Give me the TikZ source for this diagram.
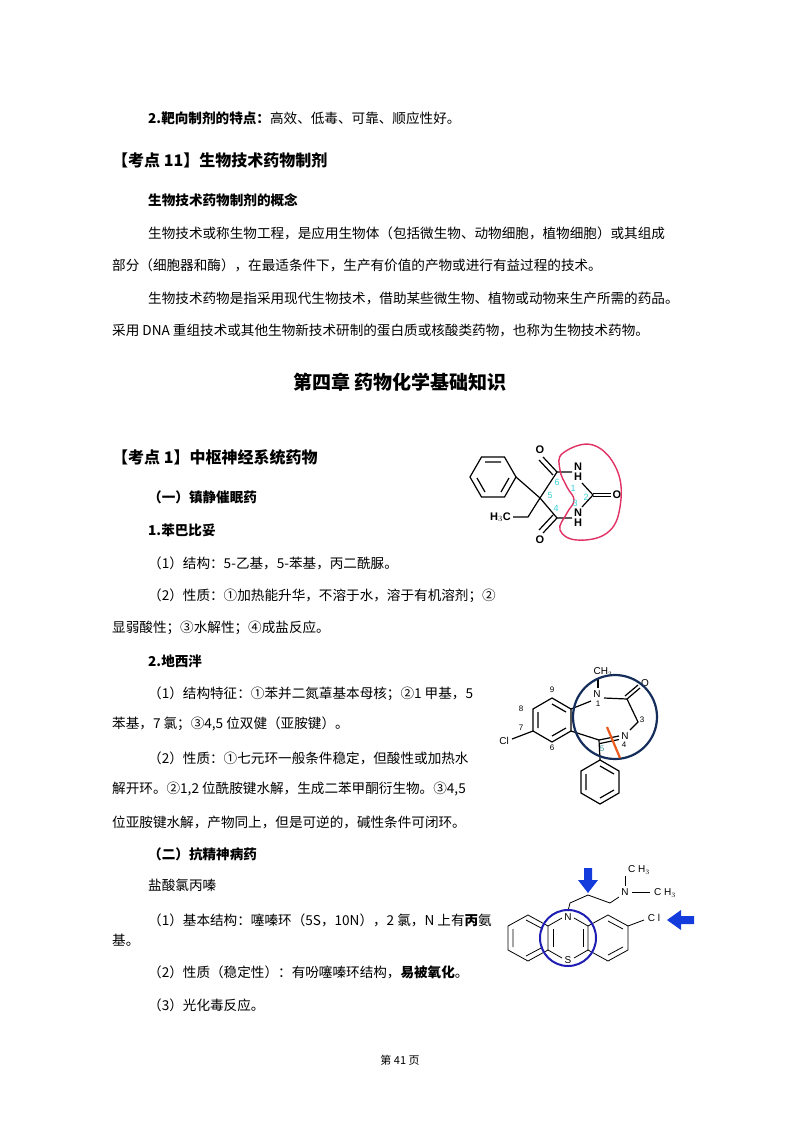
\documentclass[tikz,border=0pt]{standalone}
\usepackage{fontspec}
\setmainfont{Noto Sans CJK SC}
\newfontfamily\latinf{Liberation Sans}
\definecolor{pinkc}{RGB}{225,50,100}
\definecolor{cyanc}{RGB}{60,210,220}
\definecolor{tealc}{RGB}{60,150,150}
\definecolor{navyc}{RGB}{20,45,90}
\definecolor{orangec}{RGB}{235,90,30}
\definecolor{bluec}{RGB}{30,30,180}
\definecolor{arrowc}{RGB}{20,60,220}
\begin{document}
\begin{tikzpicture}[x=1pt,y=-1pt,
  txt/.style={anchor=west,inner sep=0pt,font=\fontsize{13.6}{15}\selectfont},
  bt/.style={txt,font=\fontsize{13.6}{15}\selectfont\bfseries},
  hd/.style={anchor=west,inner sep=0pt,font=\fontsize{16}{18}\selectfont\bfseries},
  bond/.style={line width=1.2pt},
  atm/.style={inner sep=0pt,font=\latinf\bfseries\fontsize{11}{12}\selectfont},
  num/.style={inner sep=0pt,font=\latinf\fontsize{8}{9}\selectfont}]
\useasboundingbox (0,0) rectangle (800,1132);
\fill[white] (0,0) rectangle (800,1132);
% text
\node[txt] (t1) at (148,118) {\textbf{2.靶向制剂的特点：}高效、低毒、可靠、顺应性好。};
\node[hd] (t2) at (112,160) {【考点 11】生物技术药物制剂};
\node[bt] (t3) at (148,200) {生物技术药物制剂的概念};
\node[txt] (t4) at (148,233) {生物技术或称生物工程，是应用生物体（包括微生物、动物细胞，植物细胞）或其组成};
\node[txt] (t5) at (112,265) {部分（细胞器和酶），在最适条件下，生产有价值的产物或进行有益过程的技术。};
\node[txt] (t6) at (148,298) {生物技术药物是指采用现代生物技术，借助某些微生物、植物或动物来生产所需的药品。};
\node[txt] (t7) at (112,330) {采用 DNA 重组技术或其他生物新技术研制的蛋白质或核酸类药物，也称为生物技术药物。};
\node[inner sep=0pt,font=\fontsize{19}{21}\selectfont\bfseries] (t8) at (400,382) {第四章\ 药物化学基础知识};
\node[hd] (t9) at (112,457) {【考点 1】中枢神经系统药物};
\node[bt] (t10) at (148,497) {（一）镇静催眠药};
\node[bt] (t11) at (148,530) {1.苯巴比妥};
\node[txt] (t12) at (148,563) {（1）结构：5-乙基，5-苯基，丙二酰脲。};
\node[txt] (t13) at (148,596) {（2）性质：①加热能升华，不溶于水，溶于有机溶剂；②};
\node[txt] (t14) at (112,628) {显弱酸性；③水解性；④成盐反应。};
\node[bt] (t15) at (148,661) {2.地西泮};
\node[txt] (t16) at (148,694) {（1）结构特征：①苯并二氮䓬基本母核；②1 甲基，5};
\node[txt] (t17) at (112,724) {苯基，7 氯；③4,5 位双健（亚胺键）。};
\node[txt] (t18) at (148,758) {（2）性质：①七元环一般条件稳定，但酸性或加热水};
\node[txt] (t19) at (112,789) {解开环。②1,2 位酰胺键水解，生成二苯甲酮衍生物。③4,5};
\node[txt] (t20) at (112,822) {位亚胺键水解，产物同上，但是可逆的，碱性条件可闭环。};
\node[bt] (t21) at (148,854) {（二）抗精神病药};
\node[txt] (t22) at (148,885) {盐酸氯丙嗪};
\node[txt] (t23) at (148,920) {（1）基本结构：噻嗪环（5S，10N），2 氯，N 上有\textbf{丙}氨};
\node[txt] (t24) at (112,940) {基。};
\node[txt] (t25) at (148,972) {（2）性质（稳定性）：有吩噻嗪环结构，\textbf{易被氧化}。};
\node[txt] (t26) at (148,1005) {（3）光化毒反应。};
\node[inner sep=0pt,font=\fontsize{11}{12}\selectfont] (t27) at (400,1060) {第 41 页};

% ===== Phenobarbital =====
\draw[bond] (516,477) -- (504.5,497) -- (481.5,497) -- (470,477) -- (481.5,457) -- (504.5,457) -- cycle;
\draw[bond] (509,478) -- (501,492) (485,492) -- (477,478) (485,462) -- (501,462);
\draw[bond] (516,477) -- (540,498) -- (557,472) -- (572,472);
\draw[bond] (540,498) -- (557,518) -- (572,518);
\draw[bond] (557,472) -- (543,457) (553,475) -- (539,460);
\draw[bond] (557,518) -- (543,533) (553,515) -- (539,530);
\node[atm] (o1) at (540,450) {O};
\node[atm] (o2) at (540,540) {O};
\node[atm] (n1) at (578,467) {N};
\node[atm] (h1) at (578,477) {H};
\node[atm] (n3) at (578,513) {N};
\node[atm] (h3) at (578,523) {H};
\draw[bond] (582,483) -- (593,495) -- (582,507);
\draw[bond] (593,493.2) -- (611,493.2) (593,496.8) -- (611,496.8);
\node[atm] (o3) at (617,495) {O};
\draw[bond] (540,498) -- (528,517) -- (513,517);
\node[atm,anchor=east] (me) at (511,517) {H$_3$C};
\draw[line width=1.4pt,draw=pinkc] plot[smooth cycle,tension=0.7] coordinates {(563,453) (593,445) (617,470) (620,507) (607,533) (577,540) (560,530) (567,513) (574,500) (567,487) (560,470)};
\begin{scope}[every node/.style={num,font=\latinf\fontsize{9}{10}\selectfont,text=cyanc}]
\node (c6) at (557,482) {6}; \node (c1) at (573,488) {1}; \node (c5) at (550,495) {5};
\node (c2) at (586,497) {2}; \node (c4) at (556,508) {4}; \node (c3n) at (575,503) {3};
\end{scope}

% ===== Diazepam =====
\draw[bond] (552,698) -- (571,709) -- (571,731) -- (552,742) -- (533,731) -- (533,709) -- cycle;
\draw[bond] (552,704) -- (566,712) (566,728) -- (552,736) (538,728) -- (538,712);
\draw[bond] (533,731) -- (512,739);
\node[atm,font=\latinf\fontsize{10}{11}\selectfont] (cl) at (504,741) {Cl};
\node[num] (d9) at (552,690) {9}; \node[num] (d8) at (521,709) {8};
\node[num] (d7) at (521,728) {7}; \node[num] (d6) at (552,748) {6};
\node[atm,font=\latinf\fontsize{10}{11}\selectfont] (dn1) at (597,694) {N}; \node[num] (dn1l) at (598,704) {1};
\draw[bond] (598,688) -- (598,679);
\node[atm,font=\latinf\fontsize{10}{11}\selectfont] (ch3a) at (603,672) {CH$_3$};
\draw[bond] (571,709) -- (591,701);
\draw[bond] (604,698) -- (627,699) -- (638,722) -- (630,730);
\draw[bond] (627,699) -- (640,688) (625,696) -- (638,685);
\node[atm,font=\latinf\fontsize{10}{11}\selectfont] (do) at (645,683) {O};
\node[num] (d3) at (642,720) {3};
\node[atm,font=\latinf\fontsize{10}{11}\selectfont] (dn4) at (625,736) {N}; \node[num] (dn4l) at (624,745) {4};
\draw[bond] (571,731) -- (599,740) -- (619,736) (600,743.5) -- (619,739.5);
\node[num,text=tealc] (d5) at (602,749) {5};
\draw[bond] (599,740) -- (600,760);
\draw[bond] (600,760) -- (619,771) -- (619,793) -- (600,804) -- (581,793) -- (581,771) -- cycle;
\draw[bond] (600,766) -- (614,774) (614,790) -- (600,798) (586,790) -- (586,774);
\draw[line width=2.2pt,draw=navyc] (615,717) circle (42);
\draw[line width=2.2pt,draw=orangec] (607,727) -- (620,758);

% ===== Chlorpromazine =====
\begin{scope}[line width=0.8pt]
\draw (528,915) -- (548,926) -- (548,950) -- (528,961) -- (508,950) -- (508,926) -- cycle;
\draw (526,920) -- (543,929) (543,947) -- (526,956) (513,947) -- (513,929);
\draw (548,926) -- (562,918) (574,918) -- (588,926) -- (588,950) -- (574,958) (562,958) -- (548,950);
\draw (553,929) -- (553,947) (583,929) -- (583,947);
\draw (588,926) -- (608,915) -- (628,926) -- (628,950) -- (608,961) -- (588,950);
\draw (608,921) -- (623,929) (623,947) -- (608,955);
\draw (628,926) -- (644,920);
\draw (568,911) -- (570,903) -- (588,895) -- (610,903) -- (619,897);
\draw (625,886) -- (625,876) (632,892) -- (650,892);
\end{scope}
\node[atm,font=\latinf\fontsize{10}{11}\selectfont] (cn10) at (568,917) {N};
\node[atm,font=\latinf\fontsize{10}{11}\selectfont] (cs5) at (568,960) {S};
\node[atm,font=\latinf\fontsize{10}{11}\selectfont] (cn) at (625,892) {N};
\node[atm,font=\latinf\fontsize{10}{11}\selectfont] (cme1) at (639,870) {C H$_3$};
\node[atm,font=\latinf\fontsize{10}{11}\selectfont] (cme2) at (665,893) {C H$_3$};
\node[atm,font=\latinf\fontsize{10}{11}\selectfont] (ccl) at (654,918) {C l};
\draw[line width=2pt,draw=bluec] (568,938) circle (28);
\fill[arrowc] (584,868) -- (592,868) -- (592,880) -- (598,880) -- (588,893) -- (578,880) -- (584,880) -- cycle;
\fill[arrowc] (694,916) -- (694,924) -- (681,924) -- (681,930) -- (667,920) -- (681,910) -- (681,916) -- cycle;
\end{tikzpicture}
\end{document}
